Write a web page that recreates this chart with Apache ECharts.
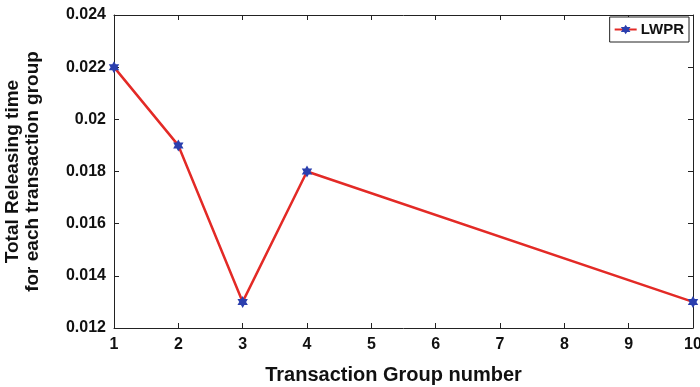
<!DOCTYPE html>
<html><head><meta charset="utf-8">
<script src="https://cdn.jsdelivr.net/npm/echarts@6/dist/echarts.min.js"></script>
<style>html,body{margin:0;padding:0;background:#fff}#c{width:700px;height:387px}</style>
</head><body><div id="c"></div>
<script>
const groups = [1, 2, 3, 4, 10];
const releaseTime = [0.022, 0.019, 0.013, 0.018, 0.013];
const seriesName = 'LWPR';
const xTitle = 'Transaction Group number';
const yTitle = 'Total Releasing time\nfor each transaction group';

const star = 'path://M0,-10 L8.66,5 L-8.66,5 Z M0,10 L-8.66,-5 L8.66,-5 Z';
const font = '"Liberation Sans", Arial, sans-serif';
const chart = echarts.init(document.getElementById('c'));
const axisBase = {
  axisLine: {show: true, onZero: false, lineStyle: {color: '#222', width: 1}},
  axisTick: {show: true, inside: true, length: 5, lineStyle: {color: '#222'}},
  splitLine: {show: false}
};
chart.setOption({
  animation: false,
  backgroundColor: '#fff',
  grid: {left: 114, right: 7, top: 15, bottom: 59, containLabel: false, outerBoundsMode: 'none'},
  legend: {
    data: [{name: seriesName}],
    right: 11, top: 17,
    borderColor: '#222', borderWidth: 1, backgroundColor: '#fff',
    padding: [5, 5, 5, 4],
    itemWidth: 22, itemHeight: 12, itemGap: 5,
    textStyle: {fontFamily: font, fontWeight: 'bold', fontSize: 15, color: '#111', padding: [0, 0, 0, -1]}
  },
  xAxis: [
    Object.assign({type: 'value', min: 1, max: 10, interval: 1, position: 'bottom',
      axisLabel: {fontFamily: font, fontWeight: 'bold', fontSize: 16, color: '#111', margin: 9},
      name: xTitle, nameLocation: 'middle', nameGap: 37,
      nameTextStyle: {fontFamily: font, fontWeight: 'bold', fontSize: 20, color: '#111', padding: [0, 20, 0, 0]}}, axisBase),
    Object.assign({type: 'value', min: 1, max: 10, interval: 1, position: 'top', axisLabel: {show: false}}, axisBase)
  ],
  yAxis: [
    Object.assign({type: 'value', min: 0.012, max: 0.024, interval: 0.002, position: 'left',
      axisLabel: {fontFamily: font, fontWeight: 'bold', fontSize: 16, color: '#111', margin: 8,
        formatter: v => String(parseFloat(v.toFixed(3)))},
      name: yTitle, nameLocation: 'middle', nameGap: 71, nameRotate: 90,
      nameTextStyle: {fontFamily: font, fontWeight: 'bold', fontSize: 19, color: '#111', lineHeight: 20}}, axisBase),
    Object.assign({type: 'value', min: 0.012, max: 0.024, interval: 0.002, position: 'right', axisLabel: {show: false}}, axisBase)
  ],
  series: [{
    name: seriesName, type: 'line',
    data: groups.map((g, i) => [g, releaseTime[i]]),
    lineStyle: {color: '#e32a26', width: 2.5},
    itemStyle: {color: '#2b3fae'},
    symbol: star, symbolSize: 12, symbolKeepAspect: true,
    showAllSymbol: true
  }]
});
</script></body></html>
